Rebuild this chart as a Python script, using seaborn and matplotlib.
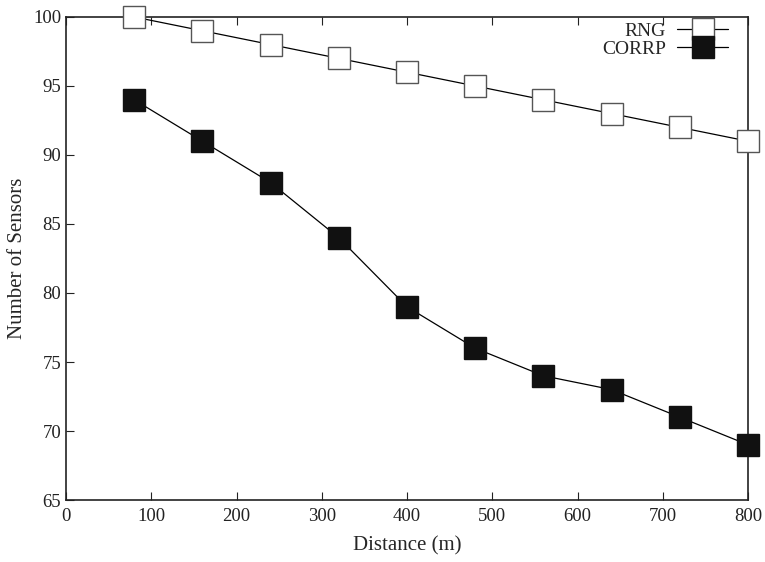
import matplotlib
matplotlib.use("Agg")
import matplotlib.pyplot as plt
import numpy as np
import pandas as pd
import seaborn as sns

# values
distance = [80, 160, 240, 320, 400, 480, 560, 640, 720, 800]
rng_sensors = [100, 99, 98, 97, 96, 95, 94, 93, 92, 91]
corrp_sensors = [94, 91, 88, 84, 79, 76, 74, 73, 71, 69]

x_ticks = [0, 100, 200, 300, 400, 500, 600, 700, 800]
y_ticks = [65, 70, 75, 80, 85, 90, 95, 100]

df = pd.DataFrame({
    "distance": distance * 2,
    "sensors": rng_sensors + corrp_sensors,
    "method": ["RNG"] * len(distance) + ["CORRP"] * len(distance),
})

sns.set_theme(style="ticks")
plt.rcParams["font.family"] = ["Liberation Serif", "DejaVu Serif"]

fig = plt.figure(figsize=(7.65, 5.62), dpi=100)
ax = fig.add_axes([0.0863, 0.1103, 0.8915, 0.8595])

styles = {
    "RNG": dict(mfc="white", mec="#555555", mew=1.0),
    "CORRP": dict(mfc="#111111", mec="#111111", mew=1.0),
}
for name, sub in df.groupby("method", sort=False):
    sns.lineplot(data=sub, x="distance", y="sensors", ax=ax, color="black",
                 linewidth=0.9, marker="s", markersize=16.5, label=name,
                 clip_on=False, zorder=3, **styles[name])

ax.set_xlim(0, 800)
ax.set_ylim(65, 100)
ax.set_xticks(x_ticks)
ax.set_yticks(y_ticks)
ax.tick_params(direction="in", length=6, width=0.8, labelsize=13.5,
               top=True, right=False, colors="#222222")
ax.tick_params(axis="x", pad=6)
for side in ax.spines.values():
    side.set_linewidth(1.2)
    side.set_color("#222222")
ax.set_xlabel("Distance (m)", fontsize=15, labelpad=8)
ax.set_ylabel("Number of Sensors", fontsize=15)

leg = ax.legend(loc="upper right", frameon=False, markerfirst=False,
                fontsize=14, handlelength=2.6, borderaxespad=0.0,
                labelspacing=0.0, handletextpad=0.6,
                bbox_to_anchor=(0.982, 1.005))
for t in leg.get_texts():
    t.set_ha("right")

fig.savefig("out.png", dpi=100)
